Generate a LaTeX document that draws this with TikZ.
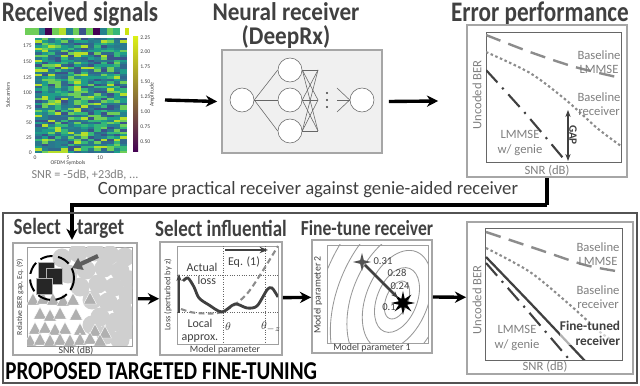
\documentclass[tikz,border=0pt]{standalone}
\usepackage{graphicx}
\usepackage{fontspec}
\setmainfont{Carlito}
\usetikzlibrary{arrows.meta,positioning,shapes.geometric,calc,fit}

\definecolor{ttl}{HTML}{404040}
\definecolor{lbl}{HTML}{7F7F7F}
\definecolor{frm}{HTML}{A6A6A6}
\definecolor{drk}{HTML}{404040}
\definecolor{hm1}{HTML}{440154}
\definecolor{hm2}{HTML}{3B528B}
\definecolor{hm3}{HTML}{31688E}
\definecolor{hm4}{HTML}{26828E}
\definecolor{hm5}{HTML}{1F9E89}
\definecolor{hm6}{HTML}{35B779}
\definecolor{hm7}{HTML}{6ECE58}
\definecolor{hm8}{HTML}{B5DE2B}
\definecolor{hm9}{HTML}{2A788E}
\newcommand{\tall}[1]{\scalebox{1}[1.22]{#1}}

\begin{document}
\begin{tikzpicture}[x=0.025cm, y=-0.025cm,
  title/.style={font=\fontsize{16.5}{18}\selectfont\bfseries, text=ttl, inner sep=0pt},
  subtitle/.style={font=\fontsize{13.5}{15}\selectfont\bfseries, text=ttl, inner sep=0pt},
  frame/.style={draw=frm, line width=1.2pt, inner sep=0pt},
  axes/.style={draw=drk!80, line width=0.6pt, inner sep=0pt},
  tick/.style={font=\fontsize{4}{5}\selectfont, text=drk, inner sep=0pt},
  axlab/.style={font=\fontsize{7}{8}\selectfont, text=drk, inner sep=0pt},
  curvelab/.style={font=\fontsize{9}{10}\selectfont, text=lbl, align=center, inner sep=0pt},
  bigarr/.style={-{Stealth[length=8pt, width=8pt]}, line width=2.4pt, black},
  neuron/.style={circle, draw=drk!80, fill=white, minimum size=24*0.025cm, inner sep=0pt},
  lmmse/.style={lbl!90, line width=1.7pt, dash pattern=on 11pt off 6pt},
  rxcurve/.style={lbl!90, line width=1.5pt, dash pattern=on 1.8pt off 1.8pt},
  genie/.style={drk, line width=1.5pt, dash pattern=on 12pt off 5pt on 1.5pt off 5pt},
]
\useasboundingbox (0,0) rectangle (640,386);

% Top: received signals
\node[title] (t1) at (80,14) {\tall{Received signals}};
\pgfmathsetseed{7}
\foreach \c in {0,...,13}{
  \foreach \r in {0,...,47}{
    \pgfmathrandominteger{\k}{2}{9}
    \fill[hm\k] ({35+\c*6.57},{38+\r*2.4}) rectangle ++(6.6,2.45);
  }
}
\foreach \c in {0,...,13}{
  \pgfmathrandominteger{\k}{1}{9}
  \fill[hm\k] ({25+\c*6.8},28) rectangle ++(6.9,7);
}
\fill[yellow!80!green] (125,28) rectangle (129,35);
\node[fit={(35,38) (127,153)}, inner sep=0pt] (heat) {};
\node[fit={(133,37) (138,152)}, inner sep=0pt,
  top color=hm8!50!yellow, middle color=hm5, bottom color=hm1] (cbar) {};
\foreach \v/\y in {175/46,150/62,125/78,100/93,75/108,50/123,25/138,0/153}
  \node[tick, anchor=east] at (32,\y) {\v};
\foreach \v/\x in {0/35,5/68,10/100}
  \node[tick] at (\x,158) {\v};
\foreach \v/\y in {2.25/38,2.00/52,1.75/67,1.50/82,1.25/97,1.00/112,0.75/127,0.50/142}
  \node[tick, anchor=west] at (140,\y) {\v};
\node[tick, rotate=90] at (8,95) {Subcarriers};
\node[tick, rotate=90] at (152,95) {Amplitude};
\node[tick] at (68,163) {OFDM Symbols};
\node[curvelab, font=\fontsize{8.7}{10}\selectfont] (snr) at (85,175) {SNR = -5dB, +23dB, ...};

% Neural receiver
\node[title] (t2) at (286,12) {\scalebox{1}[1.1]{Neural receiver}};
\node[title] (t2b) at (286,37) {\scalebox{1}[1.1]{(DeepRx)}};
\node[frame, fill=gray!12, fit={(222,50) (382,153)}] (nn) {};
\node[neuron] (in) at (242,100) {};
\foreach \i/\y in {1/70,2/100,3/131}
  \node[neuron] (h\i) at (290,\y) {};
\foreach \i in {1,2,3}
  \draw[drk!80] (in.east) -- (h\i.west);
\foreach \i/\y in {1/70,2/100,3/131}{
  \coordinate (x\i) at (318,\y);
}
\foreach \i in {1,2,3}
  \foreach \j in {1,2,3}
    \draw[drk!80] (h\i.east) -- (x\j);
\foreach \y in {93,100,107}
  \fill[drk] (327,\y) circle (1.2);
\node[neuron] (out) at (362,100) {};
\foreach \y in {88,100,112}{
  \coordinate (o\y) at (337,\y);
  \draw[drk!80] (o\y) -- (out.west);
}

% Error performance
\node[title] (t3) at (540,14) {\tall{Error performance}};
\node[frame, fit={(467,25) (627,177)}] (err) {};
\node[axes, fit={(486,32) (621,162)}] (errax) {};
\begin{scope}
  \clip (486,32) rectangle (621,162);
  \draw[lmmse] plot[smooth] coordinates {(486,35) (530,52) (575,67) (621,78)};
  \draw[rxcurve] plot[smooth] coordinates {(486,52) (530,73) (566,100) (597,128) (621,146)};
  \draw[genie] plot[smooth] coordinates {(486,70) (525,113) (563,158)};
\end{scope}
\coordinate (gtop) at (568,110);
\coordinate (gbot) at (568,161);
\draw[{Stealth[length=5pt]}-{Stealth[length=5pt]}, drk, line width=1.3pt] (gtop) -- (gbot);
\node[font=\fontsize{8}{9}\selectfont\bfseries, text=drk, rotate=-90, fill=white, inner sep=0.5pt] (gap) at (573,135) {GAP};
\node[curvelab] (l1) at (599,62) {Baseline\\LMMSE};
\node[curvelab] (l2) at (599,104) {Baseline\\receiver};
\node[curvelab] (l3) at (520,143) {LMMSE\\w/ genie};
\node[axlab, font=\fontsize{9}{10}\selectfont, text=lbl, rotate=90] at (477,95) {Uncoded BER};
\node[axlab, font=\fontsize{9}{10}\selectfont, text=lbl] at (547,171) {SNR (dB)};

% Arrows between top panels
\coordinate (a1) at (165,100);
\draw[bigarr] (a1) -- ([xshift=-0.1cm]nn.west);
\draw[bigarr] ([xshift=0.15cm]nn.east) -- ([xshift=-0.7cm]err.west);

% Feedback to the fine-tuning loop
\node[font=\fontsize{13.3}{14}\selectfont, text=ttl] (cmp) at (308,190) {Compare practical receiver against genie-aided receiver};
\coordinate (turn) at (547,205);
\coordinate (tgtin) at (72,240);
\draw[line width=2.4pt] (err.south) -- (turn);
\draw[bigarr] (turn) -| (tgtin);

% Bottom: proposed targeted fine-tuning
\node[draw=drk!90, line width=1.8pt, fit={(3,213) (637,383)}, inner sep=0pt] (ft) {};
\node[font=\fontsize{15}{17}\selectfont\bfseries, anchor=west, inner sep=0pt] (ftlab) at (5,371) {\tall{PROPOSED TARGETED FINE-TUNING}};

% Step 1: select target
\node[subtitle] (s1) at (69,228) {\tall{Select\hspace{0.85em}target}};
\node[frame, fit={(13,243) (137,355)}] (p1) {};
\node[axes, draw=drk!50, fit={(27,247) (132,346)}] (p1ax) {};
\begin{scope}
  \clip (27,247) rectangle (132,346);
  \foreach \x/\y in {62/258,78/253,95/252,110/255,125/257,68/274,86/270,104/268,120/271,130/280,
    80/287,98/284,114/287,128/295,92/300,108/302,122/308,131/316,100/317,115/322,128/330,106/335,120/340,92/325}
    \fill[gray!38] (\x,\y) circle (9.5);
  \foreach \x/\y in {33/300,43/299,53/300,63/301,73/300,90/299,
    40/314,50/316,60/314,76/315,35/329,45/328,55/330,65/329,80/330,95/331,105/333,
    30/341,40/340,50/341,60/340,70/341,80/340,90/339,100/341}
    \filldraw[fill=gray!62, draw=white, line width=0.3pt] (\x,{\y-7}) -- ++(6.5,12) -- ++(-13,0) -- cycle;
  \foreach \x/\y in {46/270,54/276,44/286}
    \filldraw[fill=black!85, draw=gray!60, line width=0.4pt] ({\x-8},{\y-8}) rectangle ++(16,16);
  \draw[black, line width=1.4pt, dash pattern=on 9pt off 4pt] (52,278) circle (22);
\end{scope}
\coordinate (pa) at (98,256);
\coordinate (pb) at (72,268);
\draw[-{Triangle[length=7pt, width=9pt]}, line width=3pt, drk!85] (pa) -- (pb);
\node[axlab, font=\fontsize{5.5}{6}\selectfont, rotate=90] at (20,297) {Relative BER gap, Eq. (9)};
\node[axlab] at (76,351) {SNR (dB)};

% Step 2: select influential
\node[subtitle] (s2) at (221,228) {\tall{Select influential}};
\node[frame, fit={(160,242) (282,355)}] (p2) {};
\node[axes, draw=drk!50, fit={(177,246) (278,344)}] (p2ax) {};
\foreach \x in {223,265}
  \draw[drk!80, densely dotted, line width=0.7pt] (\x,246) -- (\x,344);
\foreach \y in {275,312}
  \draw[drk!80, densely dotted, line width=0.7pt] (177,\y) -- (278,\y);
\begin{scope}
  \clip (177,246) rectangle (278,344);
  \draw[lbl!90, line width=1.5pt, dash pattern=on 4pt off 2.5pt] plot[smooth] coordinates {(181,309) (196,313) (222,312) (245,296) (262,272) (278,246)};
  \draw[drk, line width=2pt] plot[smooth] coordinates {(183,281) (188,278) (194,287) (199,298) (209,305) (222,312) (235,304) (247,308) (257,306) (267,290) (272,288) (278,297)};
\end{scope}
\coordinate (vb) at (179,313);
\coordinate (vt) at (179,274);
\draw[-{Stealth[length=5pt]}, drk, line width=1.7pt] (vb) -- (vt);
\coordinate (eqa) at (225,250);
\coordinate (eqb) at (268,250);
\draw[-{Stealth[length=6pt]}, drk, line width=2pt] (eqa) -- (eqb);
\node[axlab, font=\fontsize{8.5}{9}\selectfont] at (244,262) {Eq. (1)};
\node[axlab, font=\fontsize{8.5}{9}\selectfont, align=center] at (202,274) {Actual\\\hspace{0.8em}loss};
\node[axlab, font=\fontsize{8.5}{9}\selectfont, align=center] at (200,331) {Local\\approx.};
\node[axlab, font=\fontsize{8}{9}\selectfont] at (228,327) {$\theta$};
\node[axlab, font=\fontsize{8}{9}\selectfont] at (271,327) {$\theta_{-z}$};
\node[axlab, font=\fontsize{6}{7}\selectfont, rotate=90] at (168,295) {Loss (perturbed by z)};
\node[axlab] at (225,350) {Model parameter};

% Step 3: fine-tune receiver
\node[subtitle, font=\fontsize{12.5}{14}\selectfont\bfseries] (s3) at (367,228) {\tall{Fine-tune receiver}};
\node[frame, fit={(312,240) (432,353)}] (p3) {};
\node[axes, draw=drk!50, fit={(327,245) (428,343)}] (p3ax) {};
\begin{scope}
  \clip (327,245) rectangle (428,343);
  \foreach \a/\b in {11/20,20/34,31/52,45/74,60/98,76/124}
    \draw[lbl!80, line width=0.6pt] (397,300) ellipse [x radius=\a, y radius=\b, rotate=-22];
\end{scope}
\coordinate (st0) at (362,262);
\coordinate (st1) at (403,303);
\fill[drk!90] ($(st0)+(90:9)$) \foreach \i in {1,...,7}{ -- ($(st0)+({90+\i*45}:{mod(\i,2)==1 ? 2.6 : 9})$) } -- cycle;
\fill[black] ($(st1)+(90:12)$) \foreach \i in {1,...,15}{ -- ($(st1)+({90+\i*22.5}:{mod(\i,2)==1 ? 4.5 : 12})$) } -- cycle;
\draw[-{Stealth[length=5pt]}, drk, line width=1.8pt, shorten <=3pt, shorten >=5pt] (st0) -- (st1);
\node[axlab, font=\fontsize{7.5}{8}\selectfont] at (383,261) {0.31};
\node[axlab, font=\fontsize{7.5}{8}\selectfont] at (397,273) {0.28};
\node[axlab, font=\fontsize{7.5}{8}\selectfont] at (400,286) {0.24};
\node[axlab, font=\fontsize{7.5}{8}\selectfont] at (389,307) {0.1};
\node[axlab, rotate=90] at (318,295) {Model parameter 2};
\node[axlab] at (372,348) {Model parameter 1};

% Step 4: result
\node[frame, fit={(467,222) (633,374)}] (p4) {};
\node[axes, fit={(485,228) (622,360)}] (p4ax) {};
\begin{scope}
  \clip (485,228) rectangle (622,360);
  \draw[lmmse] plot[smooth] coordinates {(486,232) (540,250) (585,265) (622,272)};
  \draw[rxcurve] plot[smooth] coordinates {(486,248) (530,272) (570,305) (600,332) (618,344)};
  \draw[genie] plot[smooth] coordinates {(486,263) (527,310) (568,358)};
  \draw[drk, line width=1.6pt] plot[smooth] coordinates {(486,257) (535,308) (585,361)};
\end{scope}
\node[curvelab] (m1) at (598,254) {Baseline\\LMMSE};
\node[curvelab] (m2) at (598,297) {Baseline\\receiver};
\node[curvelab, text=drk, font=\fontsize{9.5}{10.5}\selectfont\bfseries, align=right, fill=white, fill opacity=0.6, text opacity=1] (m3) at (590,333) {Fine-tuned\\receiver};
\node[curvelab] (m4) at (517,338) {LMMSE\\w/ genie};
\node[axlab, font=\fontsize{9}{10}\selectfont, text=lbl, rotate=90] at (477,300) {Uncoded BER};
\node[axlab, font=\fontsize{9}{10}\selectfont, text=lbl] at (545,367) {SNR (dB)};

% Arrows between steps
\draw[bigarr] (p1) -- (p2);
\draw[bigarr] (p2) -- (p3);
\draw[bigarr] (p3) -- (p4);
\end{tikzpicture}
\end{document}
